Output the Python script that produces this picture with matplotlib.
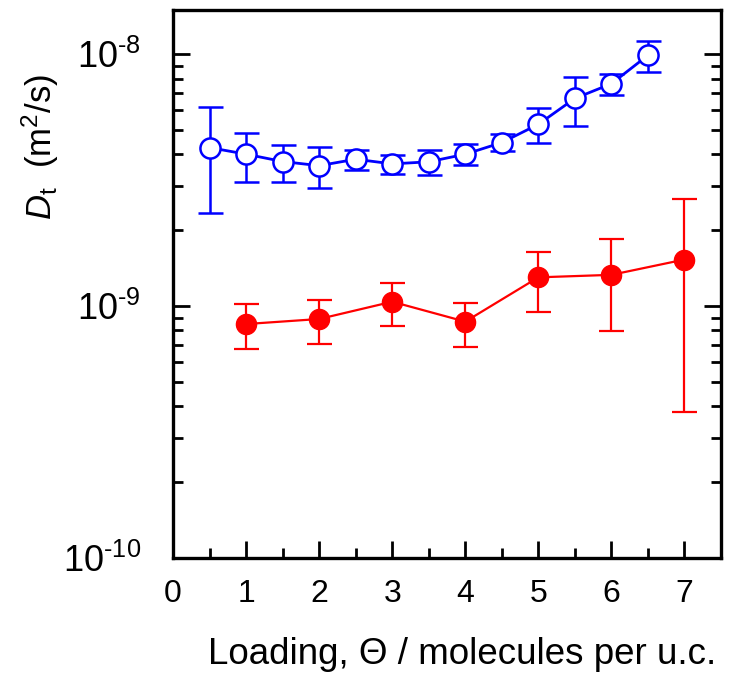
import numpy as np
import matplotlib
matplotlib.use("Agg")
import matplotlib.pyplot as plt
from matplotlib.ticker import LogLocator, FuncFormatter, MultipleLocator, NullFormatter

plt.rcParams['font.family'] = ['Liberation Sans', 'DejaVu Sans']
plt.rcParams['mathtext.fontset'] = 'custom'
plt.rcParams['mathtext.rm'] = 'Liberation Sans'
plt.rcParams['mathtext.it'] = 'Liberation Sans:italic'
plt.rcParams['mathtext.default'] = 'regular'

# open symbols (blue)
load_open = [0.5, 1.0, 1.5, 2.0, 2.5, 3.0, 3.5, 4.0, 4.5, 5.0, 5.5, 6.0, 6.5]
d_open = [4.26e-9, 4.01e-9, 3.75e-9, 3.61e-9, 3.83e-9, 3.67e-9, 3.74e-9,
          4.01e-9, 4.46e-9, 5.27e-9, 6.68e-9, 7.64e-9, 9.91e-9]
d_open_hi = [6.18e-9, 4.89e-9, 4.38e-9, 4.27e-9, 4.17e-9, 3.97e-9, 4.17e-9,
             4.41e-9, 4.82e-9, 6.12e-9, 8.13e-9, 8.38e-9, 1.13e-8]
d_open_lo = [2.35e-9, 3.11e-9, 3.12e-9, 2.94e-9, 3.48e-9, 3.35e-9, 3.30e-9,
             3.64e-9, 4.12e-9, 4.44e-9, 5.21e-9, 6.92e-9, 8.53e-9]

# filled symbols (red)
load_fill = [1, 2, 3, 4, 5, 6, 7]
d_fill = [8.48e-10, 8.88e-10, 1.04e-9, 8.67e-10, 1.30e-9, 1.33e-9, 1.53e-9]
d_fill_hi = [1.015e-9, 1.06e-9, 1.24e-9, 1.03e-9, 1.64e-9, 1.85e-9, 2.67e-9]
d_fill_lo = [6.75e-10, 7.08e-10, 8.30e-10, 6.90e-10, 9.48e-10, 7.98e-10, 3.78e-10]

fig = plt.figure(figsize=(7.34, 6.83), dpi=100)
ax = fig.add_axes([0.2357, 0.1834, 0.7466, 0.802])

yerr_open = [np.array(d_open) - np.array(d_open_lo), np.array(d_open_hi) - np.array(d_open)]
ax.errorbar(load_open, d_open, yerr=yerr_open, color='blue', lw=2, marker='o',
            ms=14.5, mfc='white', mec='blue', mew=1.8, capsize=9, capthick=1.8,
            elinewidth=1.8, zorder=3)

yerr_fill = [np.array(d_fill) - np.array(d_fill_lo), np.array(d_fill_hi) - np.array(d_fill)]
ax.errorbar(load_fill, d_fill, yerr=yerr_fill, color='red', lw=1.6, marker='o',
            ms=14.5, mfc='red', mec='red', capsize=9, capthick=1.6,
            elinewidth=1.6, zorder=3)

ax.set_yscale('log')
ax.set_xlim(0, 7.5)
ax.set_ylim(1e-10, 1.5e-8)
ax.xaxis.set_major_locator(MultipleLocator(1))
ax.xaxis.set_minor_locator(MultipleLocator(0.5))
ax.yaxis.set_major_locator(LogLocator(base=10))
ax.yaxis.set_minor_locator(LogLocator(base=10, subs=np.arange(2, 10)))
ax.yaxis.set_major_formatter(FuncFormatter(
    lambda v, p: r'$10^{\text{-%d}}$' % round(-np.log10(v))))
ax.yaxis.set_minor_formatter(NullFormatter())

for s in ax.spines.values():
    s.set_linewidth(2.4)
ax.tick_params(which='both', direction='in', top=False, right=True, width=2)
ax.tick_params(which='major', length=12)
ax.tick_params(which='minor', length=7)
ax.tick_params(axis='x', labelsize=23, pad=15)
ax.tick_params(axis='y', labelsize=26, pad=23)

ax.set_xlabel('Loading, \u0398 / molecules per u.c.', fontsize=26.5)
ax.xaxis.set_label_coords(0.528, -0.145)
ax.set_ylabel(r'$\mathit{D}_\mathregular{t}$  (m$^2$/s)', fontsize=25)
ax.yaxis.set_label_coords(-0.205, 0.75)

fig.savefig('out.png', dpi=100)
